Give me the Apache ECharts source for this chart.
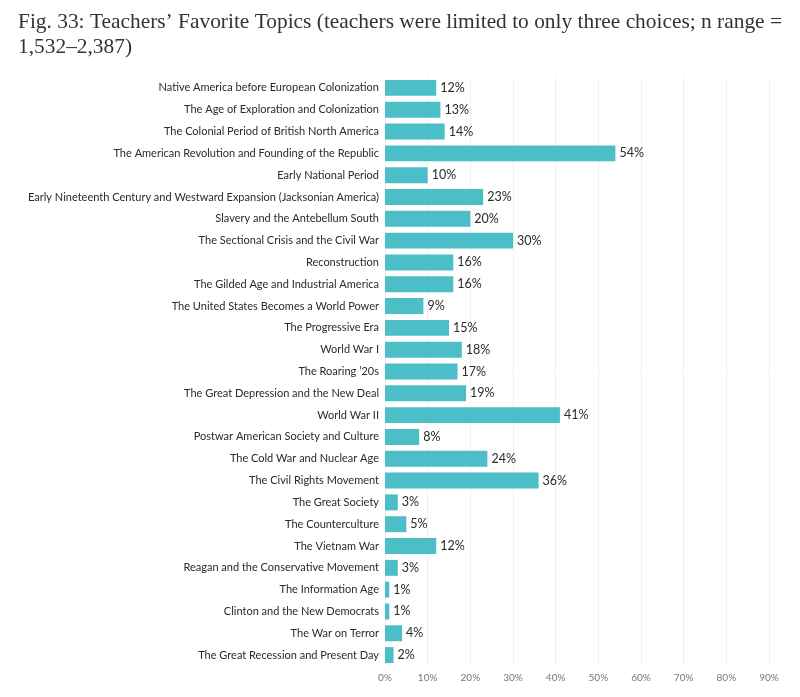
<!DOCTYPE html>
<html><head><meta charset="utf-8">
<script src="https://cdn.jsdelivr.net/npm/echarts@6/dist/echarts.min.js"></script>
<style>html,body{margin:0;padding:0;background:#fff}#c{width:800px;height:697px}</style>
</head><body><div id="c"></div>
<script>
const categories = [
"Native America before European Colonization",
"The Age of Exploration and Colonization",
"The Colonial Period of British North America",
"The American Revolution and Founding of the Republic",
"Early National Period",
"Early Nineteenth Century and Westward Expansion (Jacksonian America)",
"Slavery and the Antebellum South",
"The Sectional Crisis and the Civil War",
"Reconstruction",
"The Gilded Age and Industrial America",
"The United States Becomes a World Power",
"The Progressive Era",
"World War I",
"The Roaring \u201920s",
"The Great Depression and the New Deal",
"World War II",
"Postwar American Society and Culture",
"The Cold War and Nuclear Age",
"The Civil Rights Movement",
"The Great Society",
"The Counterculture",
"The Vietnam War",
"Reagan and the Conservative Movement",
"The Information Age",
"Clinton and the New Democrats",
"The War on Terror",
"The Great Recession and Present Day"
];
const values = [12,13,14,54,10,23,20,30,16,16,9,15,18,17,19,41,8,24,36,3,5,12,3,1,1,4,2];
const titleText = "Fig. 33: Teachers\u2019 Favorite Topics (teachers were limited to only three choices; n range =\n1,532\u20132,387)";

const chart = echarts.init(document.getElementById('c'));
chart.setOption({
  animation: false,
  title: {
    text: titleText, left: 13, top: 5,
    textStyle: {fontFamily: 'Liberation Serif', fontSize: 21.4, fontWeight: 'normal', color: '#333', lineHeight: 25}
  },
  grid: {left: 385, right: 31, top: 77, bottom: 31, containLabel: false},
  xAxis: {
    type: 'value', min: 0, max: 90, interval: 10,
    axisLabel: {formatter: '{value}%', color: '#777', fontSize: 10, fontFamily: 'Lato', margin: 7},
    axisLine: {show: false}, axisTick: {show: false},
    splitLine: {show: true, lineStyle: {color: '#f0f0f0', width: 1}}
  },
  yAxis: {
    type: 'category', data: categories, inverse: true,
    axisLabel: {color: '#2a2a2a', fontSize: 11, fontFamily: 'Lato', margin: 6},
    axisLine: {show: false}, axisTick: {show: false}
  },
  series: [{
    type: 'bar', data: values, barCategoryGap: '27%',
    itemStyle: {color: '#4BBEC8'},
    label: {show: true, position: 'right', formatter: '{c}%', color: '#2a2a2a', fontSize: 12.5, fontFamily: 'Lato', distance: 4}
  }]
});
</script></body></html>
